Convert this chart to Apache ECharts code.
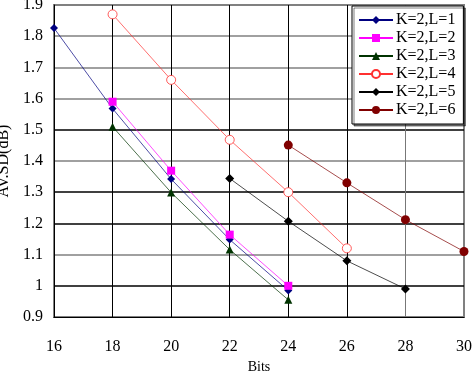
<!DOCTYPE html>
<html><head><meta charset="utf-8">
<script src="https://cdn.jsdelivr.net/npm/echarts@6/dist/echarts.min.js"></script>
<style>html,body{margin:0;padding:0;background:#fff}#c{width:472px;height:371px}</style>
</head><body><div id="c"></div>
<script>
var xTicks = [16, 18, 20, 22, 24, 26, 28, 30];
var bitsL1 = [16, 18, 20, 22, 24];
var valsL1 = [1.826, 1.568, 1.342, 1.148, 0.985];
var bitsL2 = [18, 20, 22, 24];
var valsL2 = [1.59, 1.369, 1.164, 1.0];
var bitsL3 = [18, 20, 22, 24];
var valsL3 = [1.51, 1.299, 1.116, 0.955];
var bitsL4 = [18, 20, 22, 24, 26];
var valsL4 = [1.87, 1.66, 1.468, 1.30, 1.12];
var bitsL5 = [22, 24, 26, 28];
var valsL5 = [1.344, 1.207, 1.08, 0.99];
var bitsL6 = [24, 26, 28, 30];
var valsL6 = [1.451, 1.33, 1.212, 1.11];
var names = ['K=2,L=1','K=2,L=2','K=2,L=3','K=2,L=4','K=2,L=5','K=2,L=6'];

function pairs(xs, ys){ return xs.map(function(x,i){return [x, ys[i]];}); }
var font = 'Liberation Serif';
var styles = [
  {c:'#000080', sym:'diamond', size:8, fill:'#000080'},
  {c:'#ff00ff', sym:'rect', size:8, fill:'#ff00ff'},
  {c:'#003300', sym:'triangle', size:8, fill:'#003300'},
  {c:'#ff3030', sym:'circle', size:9, fill:'#ffffff'},
  {c:'#000000', sym:'diamond', size:9, fill:'#000000'},
  {c:'#800000', sym:'circle', size:9, fill:'#800000'}
];
var data = [pairs(bitsL1,valsL1),pairs(bitsL2,valsL2),pairs(bitsL3,valsL3),pairs(bitsL4,valsL4),pairs(bitsL5,valsL5),pairs(bitsL6,valsL6)];
var series = data.map(function(d,i){
  var s = styles[i];
  return {
    name: names[i], type:'line', data:d, symbol:s.sym, symbolSize:s.size,
    lineStyle:{color:s.c, width:0.7},
    itemStyle:{color:s.fill, borderColor:s.c, borderWidth: i===3?0.8:0},
    emphasis:{disabled:true}, animation:false, z: 3
  };
});
var yColors = ['#808080','#000000','#808080','#000000','#000000','#808080','#000000','#808080','#808080','#808080','#808080'];
var chart = echarts.init(document.getElementById('c'));
chart.setOption({
  animation:false,
  backgroundColor:'#fff',
  grid:{left:54, right:8, top:5, bottom:54, show:true, borderColor:'#808080', borderWidth:2,
    containLabel:false, outerBoundsMode:'none'},
  legend:{
    data:names, orient:'vertical', left:352, top:6, width:108,
    padding:[6,8,6,6], itemGap:2, itemWidth:34, itemHeight:10,
    backgroundColor:'#fff', borderColor:'#000', borderWidth:1,
    shadowColor:'rgba(0,0,0,0.5)', shadowOffsetX:2, shadowOffsetY:2, shadowBlur:0,
    textStyle:{fontFamily:font, fontSize:16, color:'#000', padding:[0,0,0,-2]}
  },
  xAxis:{
    type:'value', min:16, max:30, interval:2,
    name:'Bits', nameLocation:'middle', nameGap:43,
    nameTextStyle:{fontFamily:font, fontSize:14, color:'#000'},
    axisLine:{show:true, lineStyle:{color:'#000', width:1}},
    axisTick:{show:false},
    axisLabel:{fontFamily:font, fontSize:16, color:'#000', margin:22},
    splitLine:{show:true, lineStyle:{color:['#000','#000','#000','#000','#000','#000','#777','#808080'], width:1}}
  },
  yAxis:{
    type:'value', min:0.9, max:1.9, interval:0.1,
    name:'AV.SD(dB)', nameLocation:'middle', nameGap:30, nameRotate:90,
    nameTextStyle:{fontFamily:font, fontSize:16, color:'#000'},
    axisLine:{show:true, lineStyle:{color:'#000', width:1}},
    axisTick:{show:false},
    axisLabel:{fontFamily:font, fontSize:16, color:'#000', margin:11,
      formatter:function(v){return String(Math.round(v*10)/10);}},
    splitLine:{show:true, lineStyle:{color:yColors, width:1.5}}
  },
  series:series
});
</script></body></html>
